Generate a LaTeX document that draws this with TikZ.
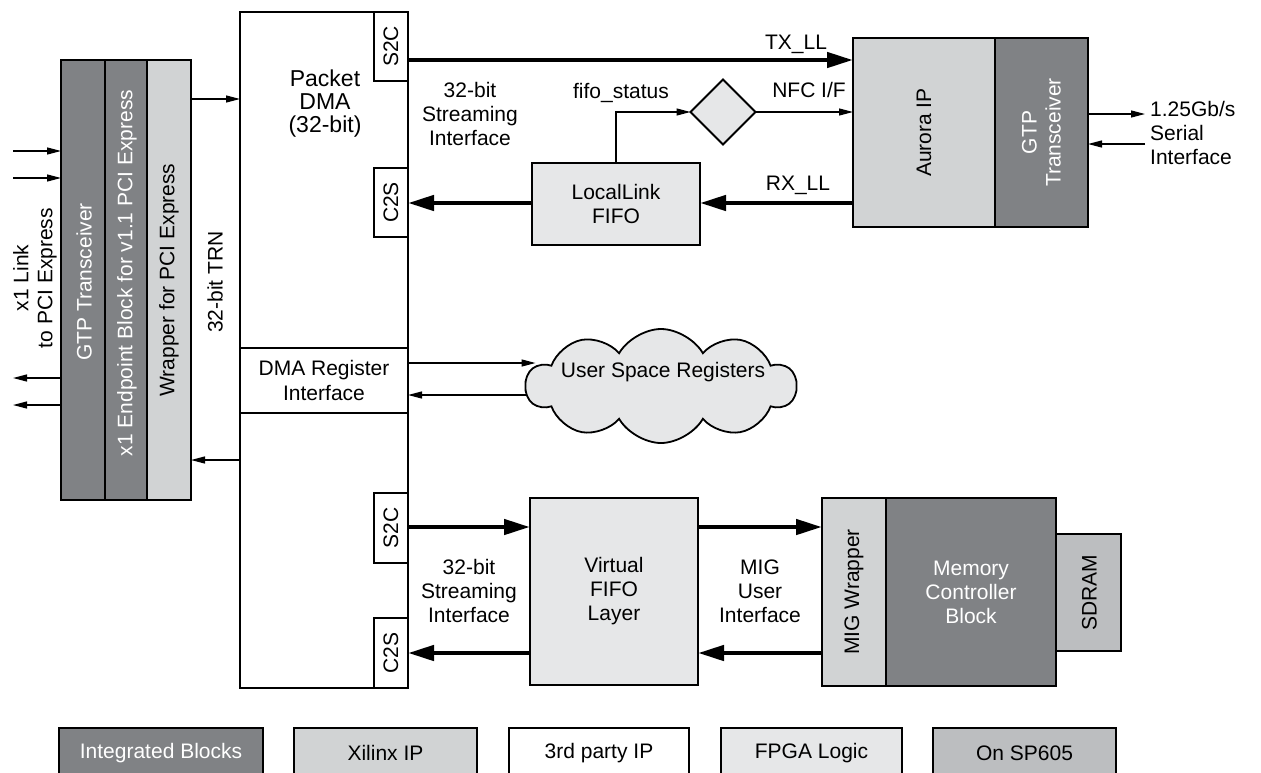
\documentclass[tikz,border=0pt]{standalone}
\usepackage{fontspec}
\setmainfont{Liberation Sans}
\usetikzlibrary{arrows.meta,shapes.geometric,shapes.symbols,backgrounds}
\definecolor{intg}{HTML}{808285}
\definecolor{xip}{HTML}{D1D3D4}
\definecolor{fpga}{HTML}{E6E7E8}
\definecolor{sptc}{HTML}{BCBEC0}
\begin{document}
\begin{tikzpicture}[x=1pt,y=-1pt,
  blk/.style={draw=black, line width=2.5pt, anchor=north west, inner sep=0pt, outer sep=0pt, font=\fontsize{21}{24}\selectfont, align=center},
  tabbox/.style={draw=black, line width=1.2pt, fill=white, anchor=north west, inner sep=0pt, outer sep=0pt},
  txt/.style={font=\fontsize{21}{24}\selectfont, align=center, inner sep=0pt},
  wtxt/.style={txt, text=white},
  fatarrow/.style={line width=4.5pt, -{Triangle[length=26pt,width=15pt]}},
  thinarrow/.style={line width=1.3pt, -{Triangle[length=14pt,width=7pt]}},
]
\useasboundingbox (0,0) rectangle (1261,772);
% level coordinates
\coordinate (yTX) at (0,60);
\coordinate (yRX) at (0,203);
\coordinate (yW1) at (0,99);
\coordinate (yW2) at (0,460);
\coordinate (yR1) at (0,363);
\coordinate (yR2) at (0,395);
\coordinate (yS) at (0,527);
\coordinate (yC) at (0,653);
\coordinate (in1) at (13,151);
\coordinate (in2) at (13,178);
\coordinate (out1) at (13,378);
\coordinate (out2) at (13,405);
\coordinate (so) at (1145,114);
\coordinate (si) at (1145,144);

% left PCIe blocks
\node[blk, fill=intg, minimum width=44pt, minimum height=440pt] (gtpL) at (61,60) {};
\node[blk, fill=intg, minimum width=42pt, minimum height=440pt] (endp) at (105,60) {};
\node[blk, fill=xip, minimum width=44pt, minimum height=440pt] (wrapL) at (147,60) {};
\node[wtxt, rotate=90] (tgtpL) at ([xshift=1pt,yshift=-2pt]gtpL.center) {GTP Transceiver};
\node[wtxt, rotate=90] (tendp) at ([xshift=1pt,yshift=7pt]endp.center) {x1 Endpoint Block for v1.1 PCI Express};
\node[txt, rotate=90] (twrap) at ([yshift=0pt]wrapL.center) {Wrapper for PCI Express};
\node[txt, rotate=90] (tlink) at (35,278) {x1 Link\\to PCI Express};
\node[txt, rotate=90] (ttrn) at (215,282) {32-bit TRN};

% DMA
\node[blk, fill=white, minimum width=168pt, minimum height=676pt] (dma) at (240,12) {};
\node[tabbox, minimum width=34pt, minimum height=69pt] (s2c1) at (374,12) {};
\node[tabbox, minimum width=34pt, minimum height=69pt] (c2s1) at (374,168) {};
\node[tabbox, minimum width=34pt, minimum height=70pt] (s2c2) at (374,493) {};
\node[tabbox, minimum width=34pt, minimum height=70pt] (c2s2) at (374,618) {};
\node[txt, rotate=90] (ts2c1) at (s2c1.center) {S2C};
\node[txt, rotate=90] (tc2s1) at (c2s1.center) {C2S};
\node[txt, rotate=90] (ts2c2) at (s2c2.center) {S2C};
\node[txt, rotate=90] (tc2s2) at (c2s2.center) {C2S};
\node[txt, font=\fontsize{23}{23}\selectfont] (tpdma) at (325,104) {Packet\\DMA\\(32-bit)};
\node[anchor=north west, minimum width=168pt, minimum height=65pt, inner sep=0pt, outer sep=0pt, font=\fontsize{21}{25}\selectfont, align=center] (dmareg) at (240,348) {DMA Register\\Interface};
\draw[line width=1.2pt] (dmareg.north west) -- (dmareg.north east);
\draw[line width=1.2pt] (dmareg.south west) -- (dmareg.south east);
\draw[line width=2.5pt] (dma.north west) rectangle (dma.south east);

% top right
\node[blk, fill=fpga, minimum width=168pt, minimum height=82pt] (llfifo) at (532,163) {LocalLink\\FIFO};
\node[diamond, draw=black, line width=1.8pt, fill=fpga, minimum width=65pt, minimum height=65pt, inner sep=0pt, outer sep=0pt] (dia) at (723,112) {};
\node[blk, fill=xip, minimum width=142pt, minimum height=189pt] (aurora) at (853,38) {};
\node[blk, fill=intg, minimum width=93pt, minimum height=189pt] (gtpR) at (995,38) {};
\node[txt, rotate=90] (taur) at (aurora.center) {Aurora IP};
\node[wtxt, rotate=90] (tgtpR) at (gtpR.center) {GTP\\Transceiver};

\draw[fatarrow] (s2c1.east |- yTX) -- (aurora.west |- yTX);
\draw[fatarrow] (aurora.west |- yRX) -- (llfifo.east |- yRX);
\draw[fatarrow] (llfifo.west |- yRX) -- (c2s1.east |- yRX);
\draw[thinarrow] (llfifo.north) |- (dia.west);
\draw[thinarrow] (dia.east) -- (aurora.west |- dia.east);
\draw[thinarrow] (gtpR.east |- so) -- (so);
\draw[thinarrow] (si) -- (gtpR.east |- si);

\node[txt] (ltx) at (796,44) {TX\_LL};
\node[txt] (lnfc) at (809,90) {NFC I/F};
\node[txt] (lrx) at (798,185) {RX\_LL};
\node[txt] (lfifo) at (621,93) {fifo\_status};
\node[txt] (lstr1) at (470,114) {32-bit\\Streaming\\Interface};
\node[txt, anchor=west, align=left] (lser) at (1150,133) {1.25Gb/s\\Serial\\Interface};

% left arrows
\draw[thinarrow] (in1) -- (gtpL.west |- in1);
\draw[thinarrow] (in2) -- (gtpL.west |- in2);
\draw[thinarrow] (gtpL.west |- out1) -- (out1);
\draw[thinarrow] (gtpL.west |- out2) -- (out2);
\draw[thinarrow] (wrapL.east |- yW1) -- (dma.west |- yW1);
\draw[thinarrow] (dma.west |- yW2) -- (wrapL.east |- yW2);

% cloud
\node[cloud, cloud puffs=10, cloud puff arc=120, aspect=2.4, draw=black, line width=1.8pt, fill=fpga, minimum width=270pt, minimum height=114pt, inner sep=0pt, outer sep=0pt] (cloud) at (661,386) {};
\node[txt] (tcloud) at (663,372) {User Space Registers};
\draw[thinarrow] (dma.east |- yR1) -- ([xshift=10pt]cloud.west |- yR1);
\begin{scope}[on background layer]
\draw[thinarrow] ([xshift=14pt]cloud.west |- yR2) -- (dma.east |- yR2);
\end{scope}

% bottom
\node[blk, fill=fpga, minimum width=168pt, minimum height=187pt] (vfifo) at (530,498) {Virtual\\FIFO\\Layer};
\node[blk, fill=sptc, minimum width=65pt, minimum height=117pt] (sdram) at (1056,534) {};
\node[blk, fill=xip, minimum width=64pt, minimum height=188pt] (migw) at (822,498) {};
\node[blk, fill=intg, minimum width=170pt, minimum height=188pt, text=white] (mcb) at (886,498) {Memory\\Controller\\Block};
\node[txt, rotate=90] (tmigw) at (migw.center) {MIG Wrapper};
\node[txt, rotate=90] (tsdram) at ([xshift=1pt]sdram.center) {SDRAM};
\draw[fatarrow] (s2c2.east |- yS) -- (vfifo.west |- yS);
\draw[fatarrow] (vfifo.west |- yC) -- (c2s2.east |- yC);
\draw[fatarrow] (vfifo.east |- yS) -- (migw.west |- yS);
\draw[fatarrow] (migw.west |- yC) -- (vfifo.east |- yC);
\node[txt] (lstr2) at (469,591) {32-bit\\Streaming\\Interface};
\node[txt] (lmig) at (760,591) {MIG\\User\\Interface};

% legend
\node[blk, fill=intg, text=white, minimum width=204pt, minimum height=50pt] (lg1) at (59,728) {Integrated Blocks};
\node[blk, fill=xip, minimum width=183pt, minimum height=50pt] (lg2) at (294,728) {Xilinx IP};
\node[blk, fill=white, minimum width=180pt, minimum height=50pt] (lg3) at (509,728) {3rd party IP};
\node[blk, fill=fpga, minimum width=181pt, minimum height=50pt] (lg4) at (721,728) {FPGA Logic};
\node[blk, fill=sptc, minimum width=183pt, minimum height=50pt] (lg5) at (933,728) {On SP605};
\end{tikzpicture}
\end{document}
